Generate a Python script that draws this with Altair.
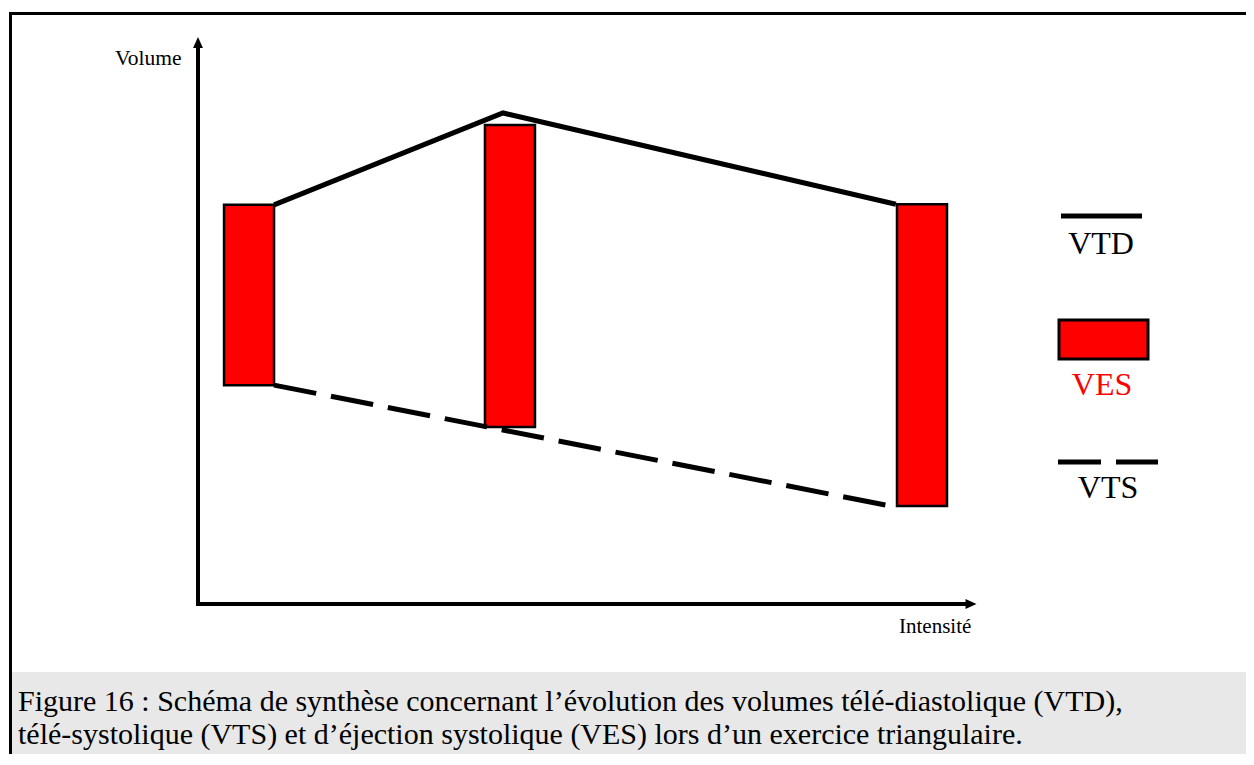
import altair as alt
import pandas as pd

# ---- data (schematic units: intensity 0-100, volume 0-100) ----
bar_intensity = [6.56, 40.1, 93.06]
ves_top = [70.4, 84.5, 70.5]        # VTD at each stage
ves_bottom = [38.6, 31.2, 17.3]     # VTS at each stage

vtd_line_intensity = [9.77, 39.2, 89.7]
vtd_line_volume = [70.4, 86.6, 70.5]

vts_line_intensity = [9.77, 89.7]
vts_line_volume = [38.6, 17.1]

legend_labels = ["VTD", "VES", "VTS"]
caption_lines = [
    "Figure 16 : Schéma de synthèse concernant l’évolution des volumes télé-diastolique (VTD),",
    "télé-systolique (VTS) et d’éjection systolique (VES) lors d’un exercice triangulaire.",
]
x_title = "Intensité"
y_title = "Volume"

W, H = 1238, 746
SERIF = "Liberation Serif"

bars_df = pd.DataFrame({"I": bar_intensity, "top": ves_top, "bottom": ves_bottom})
vtd_df = pd.DataFrame({"I": vtd_line_intensity, "V": vtd_line_volume})
vts_df = pd.DataFrame({"I": vts_line_intensity, "V": vts_line_volume})

xs = alt.Scale(domain=[0, 100], range=[190, 968], nice=False, zero=False, padding=0)
ys = alt.Scale(domain=[0, 100], range=[596, 29], nice=False, zero=False, padding=0)

one = alt.Data(values=[{}])

# frame and caption background
caption_bg = alt.Chart(one).mark_rect(color="#e8e8e8").encode(
    x=alt.value(4), x2=alt.value(W), y=alt.value(664), y2=alt.value(H))
border_top = alt.Chart(one).mark_rule(color="black", strokeWidth=3).encode(
    x=alt.value(1), x2=alt.value(W), y=alt.value(5.5))
border_left = alt.Chart(one).mark_rule(color="black", strokeWidth=3).encode(
    x=alt.value(2.5), y=alt.value(4), y2=alt.value(H))

# axes with arrows
y_axis = alt.Chart(one).mark_rule(color="black", strokeWidth=4).encode(
    x=alt.value(190), y=alt.value(598), y2=alt.value(38))
x_axis = alt.Chart(one).mark_rule(color="black", strokeWidth=4).encode(
    x=alt.value(188), x2=alt.value(960), y=alt.value(596))
arrow_up = alt.Chart(one).mark_point(
    shape="M0,-1L0.9,1L-0.9,1Z", filled=True, color="black", opacity=1, size=121
).encode(x=alt.value(190), y=alt.value(34.5))
arrow_right = alt.Chart(one).mark_point(
    shape="M1,0L-1,0.9L-1,-0.9Z", filled=True, color="black", opacity=1, size=121
).encode(x=alt.value(963), y=alt.value(596))
y_label = alt.Chart(one).mark_text(
    text=y_title, font=SERIF, fontSize=21.5, align="left", baseline="alphabetic", color="black"
).encode(x=alt.value(107), y=alt.value(57))
x_label = alt.Chart(one).mark_text(
    text=x_title, font=SERIF, fontSize=21, align="left", baseline="alphabetic", color="black"
).encode(x=alt.value(891), y=alt.value(625))

# data marks
bars = alt.Chart(bars_df).mark_bar(
    size=50, color="#ff0000", stroke="black", strokeWidth=2.5
).encode(
    x=alt.X("I:Q", scale=xs, axis=None),
    y=alt.Y("top:Q", scale=ys, axis=None),
    y2="bottom:Q",
)
vtd_line = alt.Chart(vtd_df).mark_line(color="black", strokeWidth=5).encode(
    x=alt.X("I:Q", scale=xs, axis=None), y=alt.Y("V:Q", scale=ys, axis=None))
vts_line = alt.Chart(vts_df).mark_line(
    color="black", strokeWidth=5, strokeDash=[43, 15]
).encode(x=alt.X("I:Q", scale=xs, axis=None), y=alt.Y("V:Q", scale=ys, axis=None))

# hand-drawn legend
leg_vtd = alt.Chart(one).mark_rule(color="black", strokeWidth=5).encode(
    x=alt.value(1053), x2=alt.value(1134), y=alt.value(208))
leg_vtd_t = alt.Chart(one).mark_text(
    text=legend_labels[0], font=SERIF, fontSize=32, align="center", baseline="alphabetic", color="black"
).encode(x=alt.value(1093), y=alt.value(246))
leg_ves = alt.Chart(one).mark_rect(color="#ff0000", stroke="black", strokeWidth=3).encode(
    x=alt.value(1051), x2=alt.value(1140), y=alt.value(312), y2=alt.value(351))
leg_ves_t = alt.Chart(one).mark_text(
    text=legend_labels[1], font=SERIF, fontSize=32, align="center", baseline="alphabetic", color="#ff0000"
).encode(x=alt.value(1094), y=alt.value(387))
leg_vts = alt.Chart(one).mark_rule(color="black", strokeWidth=5, strokeDash=[43, 15]).encode(
    x=alt.value(1050), x2=alt.value(1150), y=alt.value(454))
leg_vts_t = alt.Chart(one).mark_text(
    text=legend_labels[2], font=SERIF, fontSize=32, align="center", baseline="alphabetic", color="black"
).encode(x=alt.value(1100), y=alt.value(490))

# caption
cap1 = alt.Chart(one).mark_text(
    text=caption_lines[0], font=SERIF, fontSize=30, align="left", baseline="alphabetic", color="black"
).encode(x=alt.value(10), y=alt.value(703))
cap2 = alt.Chart(one).mark_text(
    text=caption_lines[1], font=SERIF, fontSize=30, align="left", baseline="alphabetic", color="black"
).encode(x=alt.value(10), y=alt.value(736))

chart = alt.layer(
    caption_bg, border_top, border_left,
    bars, vtd_line, vts_line,
    y_axis, x_axis, arrow_up, arrow_right, y_label, x_label,
    leg_vtd, leg_vtd_t, leg_ves, leg_ves_t, leg_vts, leg_vts_t,
    cap1, cap2,
).properties(
    width=W, height=H, padding=0,
    autosize=alt.AutoSizeParams(type="none"),
).configure_view(stroke=None)

chart.save("out.html", embed_options={"renderer": "svg", "actions": False})
